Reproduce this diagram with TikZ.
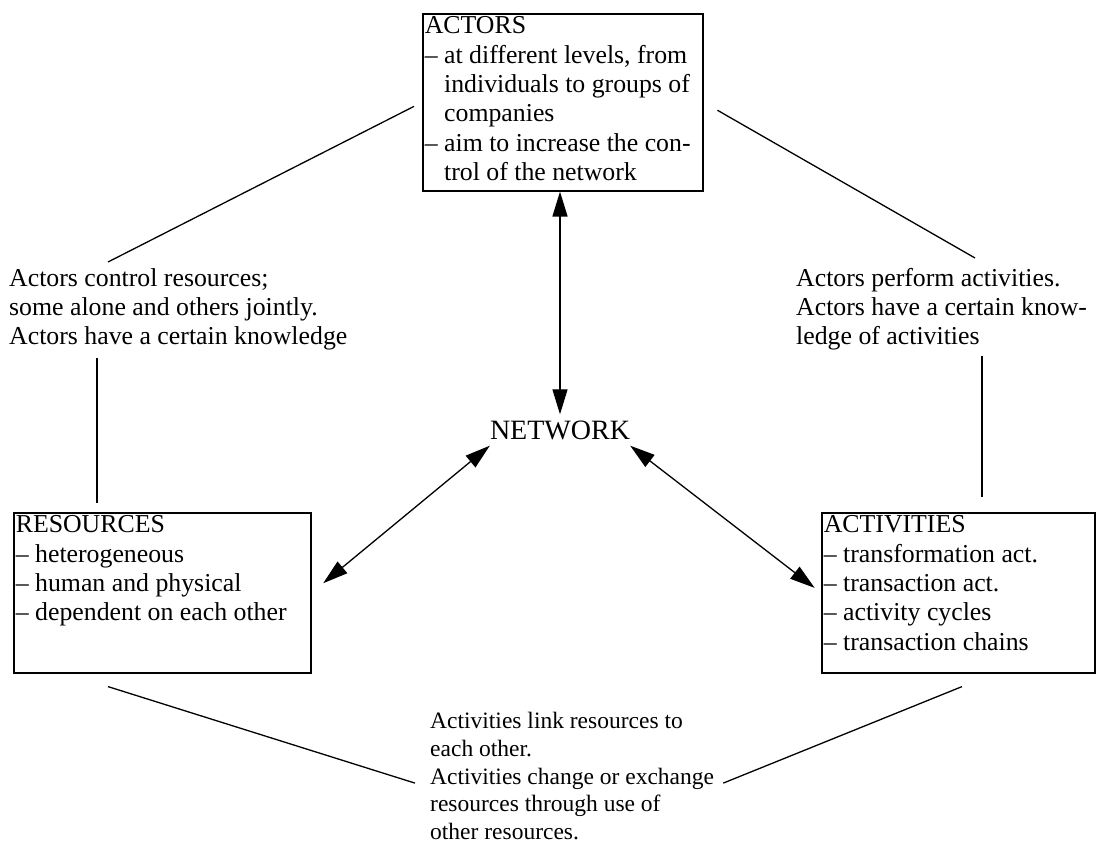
\documentclass[tikz,border=0pt]{standalone}
\usepackage{fontspec}
\setmainfont{Liberation Serif}
\usetikzlibrary{arrows.meta}
\newcommand{\dashit}{--~}
\newcommand{\dashin}{\phantom{--~}}
\newcommand{\boxtext}[3]{\parbox[c][#2][t]{#1}{\raggedright #3}}
\tikzset{
  framebox/.style={draw, line width=1.6pt, anchor=north west, inner xsep=2pt, inner ysep=3pt},
  note/.style={anchor=north west, inner sep=0pt, align=left},
  link/.style={line width=1.3pt},
  dbl/.style={line width=1.3pt, {Triangle[length=25pt,width=15pt]}-{Triangle[length=25pt,width=15pt]}}
}
\begin{document}
\begin{tikzpicture}[x=1pt,y=-1pt,font=\fontsize{25.8}{29.3}\selectfont]
  \useasboundingbox (0,0) rectangle (1098,856);
  \node[framebox] (actors) at (422,13) {\boxtext{276pt}{171pt}{ACTORS\\
    \dashit at different levels, from\\
    \dashin individuals to groups of\\
    \dashin companies\\
    \dashit aim to increase the con-\\
    \dashin trol of the network}};
  \node[framebox] (res) at (13,512) {\boxtext{293pt}{154pt}{RESOURCES\\
    \dashit heterogeneous\\
    \dashit human and physical\\
    \dashit dependent on each other}};
  \node[framebox] (act) at (821,512) {\boxtext{269pt}{154pt}{ACTIVITIES\\
    \dashit transformation act.\\
    \dashit transaction act.\\
    \dashit activity cycles\\
    \dashit transaction chains}};
  \node[font=\fontsize{28}{30}\selectfont, inner xsep=0pt, inner ysep=6pt] (network) at (560,430) {NETWORK};
  \node[note] (ctl) at (9,268) {Actors control resources;\\ some alone and others jointly.\\ Actors have a certain knowledge};
  \node[note] (atp) at (796,268) {Actors perform activities.\\ Actors have a certain know-\\ ledge of activities};
  \node[note, font=\fontsize{23.5}{27.8}\selectfont] (alr) at (430,712) {Activities link resources to\\ each other.\\ Activities change or exchange\\ resources through use of\\ other resources.};
  \draw[link, shorten <=9pt] (actors.west) -- ([shift={(99,-6)}]ctl.north west);
  \draw[link, shorten <=16pt] (actors.east) -- ([shift={(179,-10)}]atp.north west);
  \draw[link] ([shift={(88,8)}]ctl.south west) -- ([shift={(84,-9)}]res.north west);
  \draw[link] ([shift={(186,5)}]atp.south west) -- ([shift={(161,-15)}]act.north west);
  \draw[link] ([shift={(95,13)}]res.south west) -- ([shift={(-15,7)}]alr.west);
  \draw[link] ([shift={(141,13)}]act.south west) -- ([shift={(9,7)}]alr.east);
  \draw[dbl] (network.north) -- (network.north |- actors.south);
  \draw[dbl, shorten >=15pt] (network.south west) -- (res.east);
  \draw[dbl, shorten >=8pt] (network.south east) -- (act.west);
\end{tikzpicture}
\end{document}
